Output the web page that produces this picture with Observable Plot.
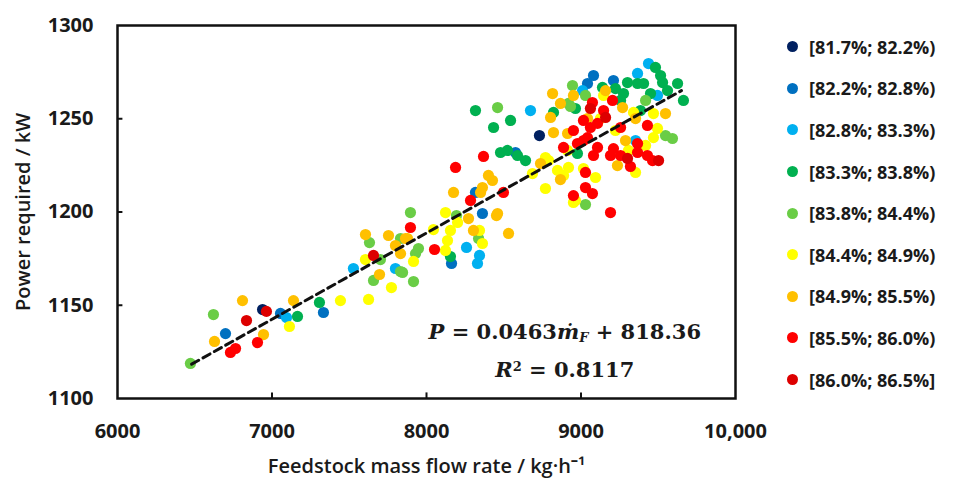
<!DOCTYPE html>
<html>
<head>
<meta charset="utf-8">
<script src="https://cdn.jsdelivr.net/npm/d3@7"></script>
<script src="https://cdn.jsdelivr.net/npm/@observablehq/plot@0.6"></script>
<style>
  html, body { margin: 0; padding: 0; background: #fff; }
  #wrap { position: relative; width: 960px; height: 478px; overflow: hidden; font-family: "Open Sans", sans-serif; }
  #chart { position: absolute; left: 0; top: 0; }
  #legend { position: absolute; left: 787px; top: 26px; }
  .row { display: flex; align-items: center; height: 41.6px; }
  .sw { width: 11px; height: 11px; border-radius: 50%; margin-right: 11px; flex: none; }
  .lab { font-size: 18px; font-weight: 700; color: #1a1a1a; white-space: nowrap; }
</style>
</head>
<body>
<div id="wrap"><div id="chart"></div><div id="legend"></div></div>
<script>
// ---- data ----
const bandLabels = ["[81.7%; 82.2%)","[82.2%; 82.8%)","[82.8%; 83.3%)","[83.3%; 83.8%)","[83.8%; 84.4%)","[84.4%; 84.9%)","[84.9%; 85.5%)","[85.5%; 86.0%)","[86.0%; 86.5%]"];
const bandColors = ["#002060","#0070C0","#00B0F0","#00B050","#6ACD46","#FFFF00","#FFC000","#FF0000","#DD0000"];

// [feedstock mass flow rate (kg/h), power required (kW)]
const band0 = [[8731,1241.0],[6939,1147.7]];
const band1 = [[6699,1134.8],[7055,1145.6],[7333,1146.1],[9081,1273.2],[9042,1268.9],[9210,1270.5],[8576,1231.9],[8362,1199.2],[8317,1210.5],[8162,1172.4]];
const band2 = [[9437,1279.6],[9366,1274.3],[9010,1265.1],[9495,1262.5],[8673,1254.4],[9353,1238.3],[7094,1143.4],[7527,1169.7],[7799,1169.7],[8259,1181.0],[8343,1176.7],[8330,1172.4]];
const band3 = [[9301,1269.4],[9366,1268.9],[9405,1268.9],[9515,1273.2],[9528,1269.4],[9625,1268.9],[9139,1266.8],[9275,1263.5],[9450,1263.5],[9663,1259.8],[8964,1255.5],[8822,1253.4],[8317,1254.4],[8544,1249.1],[8434,1245.3],[8479,1231.9],[8524,1233.0],[8589,1230.3],[8641,1227.6],[8977,1231.4],[7165,1144.0],[7307,1151.5],[8155,1176.1],[9482,1277.5],[9560,1265.1],[9256,1259.8],[9223,1266.2],[9385,1254.4]];
const band4 = [[6472,1118.8],[6621,1145.0],[8945,1267.8],[8460,1256.0],[8919,1258.2],[8932,1256.6],[9547,1241.0],[9592,1239.4],[9029,1204.0],[8194,1198.1],[8337,1185.8],[7896,1199.7],[7948,1180.4],[7929,1177.7],[7845,1167.6],[7916,1162.7],[7657,1163.3],[7832,1168.1],[7702,1174.5],[7631,1183.6],[7832,1185.8],[9418,1259.8],[9029,1262.5]];
const band5 = [[9146,1262.5],[9340,1253.4],[9469,1252.8],[9495,1244.8],[9469,1239.9],[8848,1222.3],[8919,1223.9],[8887,1219.6],[9016,1223.3],[9094,1218.5],[8686,1220.6],[8770,1212.6],[8964,1206.2],[8951,1205.1],[9353,1221.2],[8123,1199.7],[8045,1190.6],[8201,1194.4],[8155,1190.1],[8136,1184.7],[8123,1179.4],[8343,1190.1],[8362,1183.1],[7916,1173.5],[7113,1138.6],[7443,1152.5],[7625,1153.1],[7773,1159.5],[7605,1174.5],[9126,1250.1],[8790,1227.6],[8913,1233.0],[8770,1229.2],[9223,1243.7],[9418,1235.7],[9307,1233.0]];
const band6 = [[8816,1263.5],[8951,1262.5],[8867,1258.2],[9269,1256.0],[9547,1252.8],[8803,1250.7],[8822,1242.6],[8913,1242.1],[9236,1224.9],[8738,1226.0],[8867,1217.4],[8401,1219.6],[8427,1216.9],[8362,1213.1],[8350,1210.5],[8460,1199.2],[8175,1210.5],[8272,1196.5],[8453,1198.1],[8304,1190.1],[8531,1188.5],[7864,1185.8],[7605,1187.9],[7754,1187.4],[7799,1182.0],[7832,1177.7],[7877,1185.8],[7696,1166.5],[7139,1152.5],[6809,1152.5],[6628,1130.6],[6945,1134.3],[9042,1250.1],[9159,1265.1],[9353,1250.1],[9288,1238.3]];
const band7 = [[8369,1229.8],[8188,1223.9],[8285,1206.2],[8498,1210.5],[7896,1191.7],[8052,1179.9],[6731,1124.7],[6764,1126.8],[6906,1130.0],[8951,1243.7],[9016,1249.1],[9061,1245.3],[9107,1247.5],[9074,1258.7],[9146,1254.4],[9204,1259.8],[8887,1234.6],[8977,1236.7],[9016,1238.3],[9042,1239.9],[9107,1234.6],[9081,1230.3],[9210,1234.0],[9256,1230.3],[9191,1230.3],[9256,1245.3],[9430,1246.4],[9366,1236.7],[9366,1231.9],[9430,1230.3],[9320,1224.4],[9029,1221.2],[9029,1213.1],[9074,1209.9],[8951,1208.8],[9191,1199.7],[9463,1227.6]];
const band8 = [[6835,1141.8],[6964,1146.7],[7657,1176.7],[9502,1227.6],[9159,1250.7],[9061,1255.5],[9301,1228.7]];
const bandPoints = [band0, band1, band2, band3, band4, band5, band6, band7, band8];

const fitFlow = [6480, 9650];
const fitPower = [1118.4, 1265.1];

const xTicks = [6000, 7000, 8000, 9000, 10000];
const xTickLabels = ["6000", "7000", "8000", "9000", "10,000"];
const yTicks = [1100, 1150, 1200, 1250, 1300];
const yTickLabels = ["1100", "1150", "1200", "1250", "1300"];

const xTitle = "Feedstock mass flow rate / kg·h⁻¹";
const yTitle = "Power required / kW";
const eqLines = ["P = 0.0463ṁF + 818.36", "R² = 0.8117"];
const eqFlow = [8895, 8895];
const eqPower = [1135.3, 1115.0];

// ---- build ----
const points = bandPoints.flatMap((arr, i) => arr.map(([f, p]) => ({flow: f, power: p, band: bandLabels[i]})));
const fit = fitFlow.map((f, i) => ({flow: f, power: fitPower[i]}));
const eq = eqLines.map((t, i) => ({t, flow: eqFlow[i], power: eqPower[i]}));

const chart = Plot.plot({
  width: 800,
  height: 478,
  marginLeft: 117,
  marginRight: 65,
  marginTop: 25,
  marginBottom: 80,
  style: {fontFamily: "'Open Sans', sans-serif", fontSize: "20px", fontWeight: 700, color: "#1a1a1a", background: "transparent"},
  x: {domain: [6000, 10000], ticks: xTicks, tickSize: 0, tickPadding: 25, tickFormat: (d) => xTickLabels[xTicks.indexOf(d)], label: null},
  y: {domain: [1100, 1300], ticks: yTicks, tickSize: 0, tickPadding: 24, tickFormat: (d) => yTickLabels[yTicks.indexOf(d)], label: null},
  color: {domain: bandLabels, range: bandColors},
  marks: [
    Plot.dot(points, {x: "flow", y: "power", fill: "band", r: 5.6}),
    Plot.line(fit, {x: "flow", y: "power", stroke: "#111", strokeWidth: 3, strokeDasharray: "8,5"}),
    Plot.ruleX(xTicks.slice(1, -1), {y1: 1100, y2: 1103, stroke: "#111", strokeWidth: 2}),
    Plot.ruleY(yTicks.slice(1, -1), {x1: 6000, x2: 6035, stroke: "#111", strokeWidth: 2}),
    Plot.frame({stroke: "#111", strokeWidth: 2.5}),
    Plot.text([yTitle], {frameAnchor: "left", dx: -94, rotate: -90, fontSize: 20, fontWeight: 600, textAnchor: "middle"}),
    Plot.text([xTitle], {frameAnchor: "bottom", dy: 68, fontSize: 20, fontWeight: 600, textAnchor: "middle", lineAnchor: "middle"}),
    Plot.text(eq, {x: "flow", y: "power", text: "t", fontSize: 21, fontWeight: 700, fontFamily: "'DejaVu Serif', serif", textAnchor: "middle", lineAnchor: "middle"})
  ]
});
document.getElementById("chart").appendChild(chart);

// rich formatting of the regression equation (italic symbols, subscript / superscript)
const eqParts = [
  [["P", "i"], [" = 0.0463", ""], ["ṁ", "i"], ["F", "sub"], [" + 818.36", ""]],
  [["R", "i"], ["2", "sup"], [" = 0.8117", ""]]
];
d3.select(chart).selectAll("text").each(function() {
  const idx = eqLines.indexOf(this.textContent);
  if (idx < 0) return;
  const t = d3.select(this);
  t.text(null).attr("xml:space", "preserve").style("white-space", "pre");
  for (const [s, k] of eqParts[idx]) {
    const ts = t.append("tspan").text(s);
    if (k === "i") ts.attr("font-style", "italic");
    if (k === "sub") ts.attr("font-style", "italic").attr("font-size", 13).attr("baseline-shift", "-25%");
    if (k === "sup") ts.attr("font-size", 13).attr("baseline-shift", "45%");
  }
});

// legend
const leg = d3.select("#legend");
bandLabels.forEach((l, i) => {
  const row = leg.append("div").attr("class", "row");
  row.append("div").attr("class", "sw").style("background", bandColors[i]);
  row.append("div").attr("class", "lab").text(l);
});
</script>
</body>
</html>
